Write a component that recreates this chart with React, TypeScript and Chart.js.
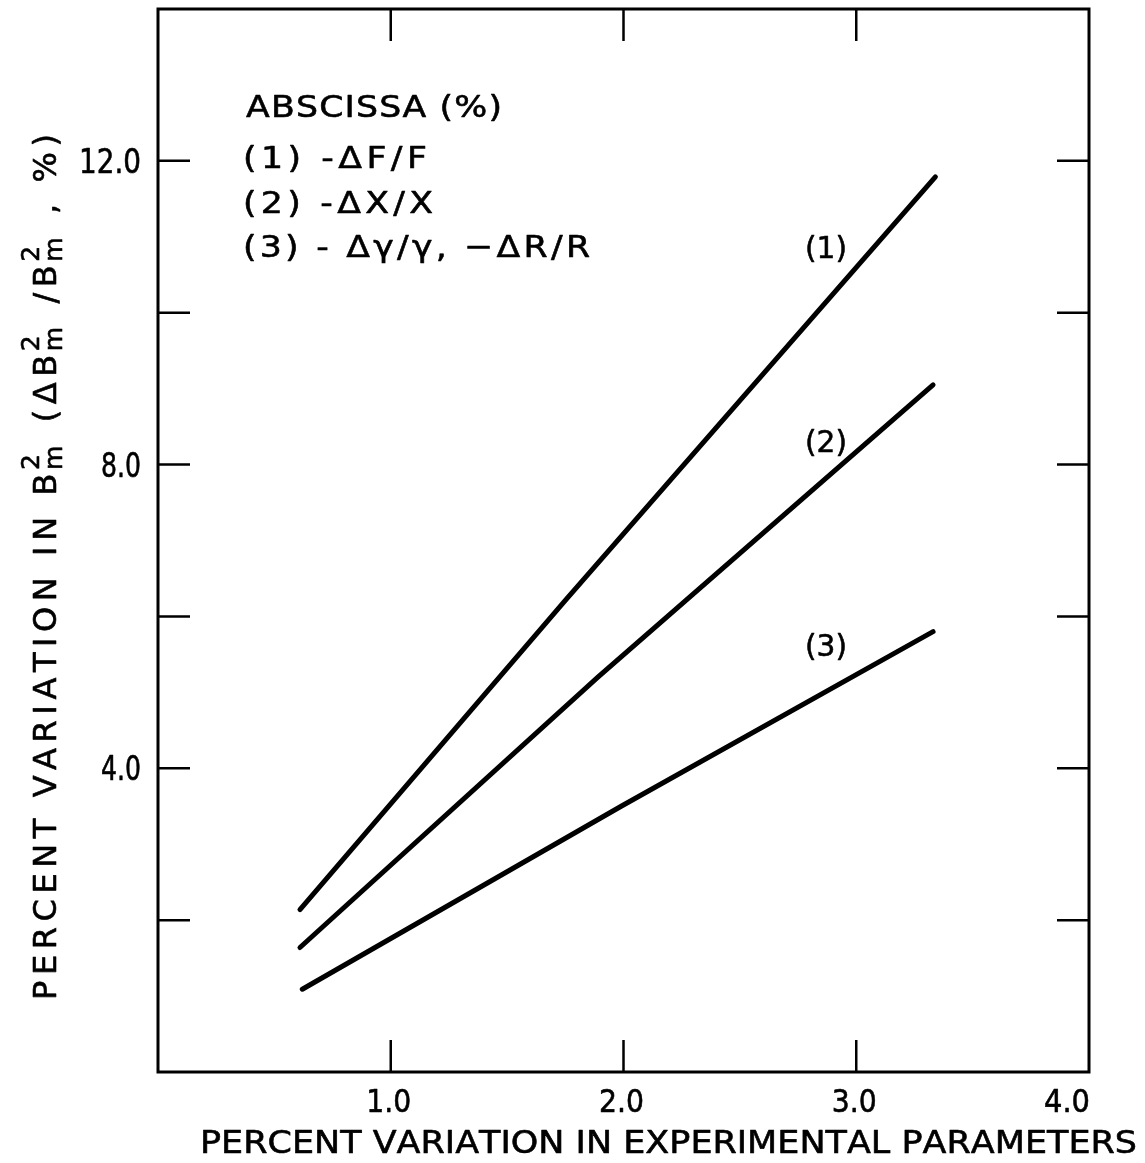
import React, { useEffect, useRef } from "react";
import { Chart, registerables } from "chart.js";

Chart.register(...registerables);

// ---- data ----
const curve1X = [0.61, 1.75, 3.34];
const curve1Y = [2.14, 6.21, 11.79];
const curve2X = [0.61, 1.89, 3.33];
const curve2Y = [1.64, 5.2, 9.05];
const curve3X = [0.62, 1.99, 3.33];
const curve3Y = [1.09, 3.5, 5.8];

const curveNames = ["(1)", "(2)", "(3)"];
const curveLabelX = [2.87, 2.87, 2.87];
const curveLabelY = [10.88, 8.32, 5.64];

const xTickValues = [1, 2, 3, 4];
const xTickLabels = ["1.0", "2.0", "3.0", "4.0"];
const topTickValues = [1, 2, 3];
const yTickValues = [2, 4, 6, 8, 10, 12];
const yLabelValues = [4, 8, 12];
const yLabelTexts = ["4.0", "8.0", "12.0"];

const legendLines = [
  "ABSCISSA (%)",
  "(1) -\u0394F/F",
  "(2) -\u0394X/X",
  "(3) - \u0394\u03b3/\u03b3, \u2212\u0394R/R",
];

const xTitle = "PERCENT VARIATION IN EXPERIMENTAL PARAMETERS";

const FONT = '"DejaVu Sans", "Liberation Sans", sans-serif';
const EMBOLDEN = 0.6;

type Align = "left" | "center" | "right";

function glyph(ctx: CanvasRenderingContext2D, ch: string, x: number, y: number) {
  ctx.fillText(ch, x, y);
  ctx.strokeText(ch, x, y);
}

function fitText(
  ctx: CanvasRenderingContext2D,
  text: string,
  x: number,
  y: number,
  width: number,
  align: Align,
  size: number
) {
  ctx.font = `${size}px ${FONT}`;
  ctx.lineWidth = EMBOLDEN;
  ctx.lineJoin = "round";
  const chars = [...text];
  const widths = chars.map((c) => ctx.measureText(c).width);
  const w = widths.reduce((a, b) => a + b, 0);
  const sx = Math.min(1.12, width / w);
  let ls = 0;
  if (chars.length > 1) ls = Math.max(0, (width - w * sx) / (chars.length - 1));
  const total = w * sx + ls * (chars.length - 1);
  let cx = align === "left" ? x : align === "center" ? x - total / 2 : x - total;
  ctx.textAlign = "left";
  ctx.textBaseline = "alphabetic";
  chars.forEach((c, i) => {
    ctx.save();
    ctx.translate(cx, y);
    ctx.scale(sx, 1);
    glyph(ctx, c, 0, 0);
    ctx.restore();
    cx += widths[i] * sx + ls;
  });
}

type Seg = { t: string } | { sup: string; sub: string };

const yTitleSegs: Seg[] = [
  { t: "PERCENT VARIATION IN B" },
  { sup: "2", sub: "m" },
  { t: " (\u0394B" },
  { sup: "2", sub: "m" },
  { t: " /B" },
  { sup: "2", sub: "m" },
  { t: " , %)" },
];

function drawYTitle(ctx: CanvasRenderingContext2D) {
  const baseX = 56;
  const startY = 1000;
  const length = 866;
  const size = 32;
  const small = 25;
  ctx.save();
  ctx.translate(baseX, startY);
  ctx.rotate(-Math.PI / 2);
  ctx.textAlign = "left";
  ctx.textBaseline = "alphabetic";
  ctx.lineWidth = EMBOLDEN;
  type Item = { kind: "c"; ch: string; w: number } | { kind: "s"; sup: string; sub: string; w: number };
  const items: Item[] = [];
  for (const s of yTitleSegs) {
    if ("t" in s) {
      ctx.font = `${size}px ${FONT}`;
      for (const ch of [...s.t]) items.push({ kind: "c", ch, w: ctx.measureText(ch).width });
    } else {
      ctx.font = `${small}px ${FONT}`;
      const w = Math.max(ctx.measureText(s.sup).width, ctx.measureText(s.sub).width);
      items.push({ kind: "s", sup: s.sup, sub: s.sub, w });
    }
  }
  const natural0 = items.reduce((a, it) => a + it.w, 0);
  const sx = Math.min(1.0, length / natural0);
  const natural = natural0 * sx;
  const ls = Math.max(0, (length - natural) / (items.length - 1));
  let cx = 0;
  for (const it of items) {
    ctx.save();
    ctx.translate(cx, 0);
    ctx.scale(sx, 1);
    if (it.kind === "c") {
      ctx.font = `${size}px ${FONT}`;
      glyph(ctx, it.ch, 0, 0);
    } else {
      ctx.font = `${small}px ${FONT}`;
      glyph(ctx, it.sup, -2, -17);
      glyph(ctx, it.sub, -2, 6);
    }
    ctx.restore();
    cx += it.w * sx + ls;
  }
  ctx.restore();
}

const framePlugin = {
  id: "frame",
  afterDraw(chart: any) {
    const ctx: CanvasRenderingContext2D = chart.ctx;
    const { left, right, top, bottom } = chart.chartArea;
    const xs = chart.scales.x;
    const ys = chart.scales.y;
    ctx.save();
    ctx.strokeStyle = "#000";
    ctx.fillStyle = "#000";
    ctx.lineWidth = 3;
    ctx.strokeRect(left, top, right - left, bottom - top);

    const tl = 32;
    ctx.lineWidth = 2.5;
    ctx.beginPath();
    for (const v of xTickValues) {
      if (v >= 4) continue;
      const px = xs.getPixelForValue(v);
      ctx.moveTo(px, bottom);
      ctx.lineTo(px, bottom - tl);
    }
    for (const v of topTickValues) {
      const px = xs.getPixelForValue(v);
      ctx.moveTo(px, top);
      ctx.lineTo(px, top + tl);
    }
    for (const v of yTickValues) {
      const py = ys.getPixelForValue(v);
      ctx.moveTo(left, py);
      ctx.lineTo(left + tl, py);
      ctx.moveTo(right, py);
      ctx.lineTo(right - tl, py);
    }
    ctx.stroke();

    // x tick labels
    xTickValues.forEach((v, i) => {
      const px = xs.getPixelForValue(v);
      if (i === xTickValues.length - 1) fitText(ctx, xTickLabels[i], right + 1, 1112, 46, "right", 32);
      else fitText(ctx, xTickLabels[i], px - 2, 1112, 45, "center", 32);
    });
    // y tick labels
    yLabelValues.forEach((v, i) => {
      const py = ys.getPixelForValue(v);
      const t = yLabelTexts[i];
      fitText(ctx, t, 141, py + 12, t.length === 4 ? 62 : 40, "right", 33);
    });

    // axis titles
    fitText(ctx, xTitle, 200, 1153, 937, "left", 32);
    drawYTitle(ctx);

    // legend block
    fitText(ctx, legendLines[0], 246, 117, 256, "left", 31);
    fitText(ctx, legendLines[1], 243, 168, 184, "left", 31);
    fitText(ctx, legendLines[2], 243, 213, 190, "left", 31);
    fitText(ctx, legendLines[3], 243, 257, 347, "left", 31);

    // curve labels
    curveNames.forEach((n, i) => {
      const px = xs.getPixelForValue(curveLabelX[i]);
      const py = ys.getPixelForValue(curveLabelY[i]);
      fitText(ctx, n, px, py + 12, 42, "center", 31);
    });
    ctx.restore();
  },
};

function pts(xs: number[], ys: number[]) {
  return xs.map((x, i) => ({ x, y: ys[i] }));
}

export default function App() {
  const ref = useRef<HTMLCanvasElement | null>(null);
  useEffect(() => {
    document.body.style.margin = "0";
    document.body.style.background = "#fff";
    const canvas = ref.current!;
    const lineStyle = {
      borderColor: "#000",
      borderWidth: 5,
      pointRadius: 0,
      tension: 0,
      borderCapStyle: "round" as const,
      borderJoinStyle: "round" as const,
      fill: false,
    };
    const chart = new Chart(canvas, {
      type: "line",
      data: {
        datasets: [
          { label: curveNames[0], data: pts(curve1X, curve1Y), ...lineStyle },
          { label: curveNames[1], data: pts(curve2X, curve2Y), ...lineStyle },
          { label: curveNames[2], data: pts(curve3X, curve3Y), ...lineStyle },
        ],
      },
      options: {
        animation: false,
        responsive: false,
        devicePixelRatio: 1,
        layout: { padding: { left: 158, top: 9, right: 56, bottom: 91 } },
        plugins: { legend: { display: false }, tooltip: { enabled: false } },
        scales: {
          x: {
            type: "linear",
            min: 0,
            max: 4,
            grid: { display: false, drawTicks: false },
            border: { display: false },
            ticks: { display: false },
            afterFit: (s: any) => {
              s.height = 0;
            },
          },
          y: {
            type: "linear",
            min: 0,
            max: 14,
            grid: { display: false, drawTicks: false },
            border: { display: false },
            ticks: { display: false },
            afterFit: (s: any) => {
              s.width = 0;
            },
          },
        },
      },
      plugins: [framePlugin],
    });
    return () => chart.destroy();
  }, []);
  return (
    <div style={{ width: 1145, height: 1163, background: "#fff" }}>
      <canvas ref={ref} width={1145} height={1163} style={{ display: "block" }} />
    </div>
  );
}
